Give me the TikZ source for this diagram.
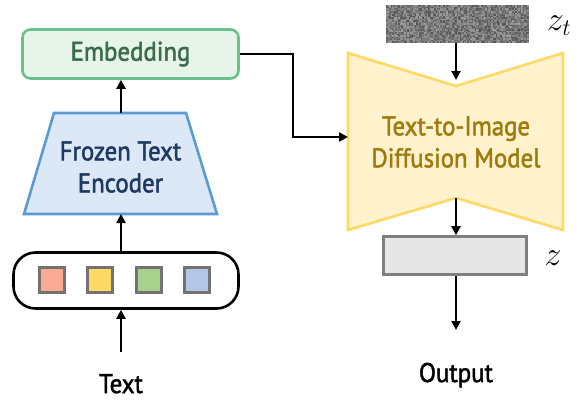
\RequirePackage{fix-cm}
\documentclass[tikz,border=0pt]{standalone}
\usepackage{fontspec}
\setmainfont{PT Sans}[FakeBold=1.8, FakeStretch=0.92]
\usetikzlibrary{arrows.meta,calc}

\definecolor{embfill}{HTML}{E7F4EA}
\definecolor{embline}{HTML}{6CC08B}
\definecolor{embtext}{HTML}{3A6B4B}
\definecolor{encfill}{HTML}{DCE8F5}
\definecolor{encline}{HTML}{5B9BD5}
\definecolor{enctext}{HTML}{1F3864}
\definecolor{dmfill}{HTML}{FFF2CC}
\definecolor{dmline}{HTML}{FFD966}
\definecolor{dmtext}{HTML}{9E7B0C}
\definecolor{sqline}{HTML}{767171}
\definecolor{sqa}{HTML}{F9AB96}
\definecolor{sqb}{HTML}{FFD966}
\definecolor{sqc}{HTML}{A9D18E}
\definecolor{sqd}{HTML}{B4C7E7}
\definecolor{zfill}{HTML}{E7E6E6}
\definecolor{zline}{HTML}{7F7F7F}

\tikzset{
  arr/.style={line width=2.4pt,-{Triangle[length=9pt,width=9pt]}},
  lbl/.style={font=\fontsize{27}{32}\selectfont, inner sep=0pt, align=center},
  square/.style={draw=sqline, line width=2.6pt, minimum size=25pt, inner sep=0pt},
  mathlbl/.style={font=\fontsize{34}{34}\selectfont, inner sep=0pt}
}

\begin{document}
\begin{tikzpicture}[x=1pt,y=-1pt]
\useasboundingbox (0,0) rectangle (577,400);

% embedding box
\node[draw=embline, fill=embfill, line width=2.6pt, rounded corners=8pt,
      minimum width=216pt, minimum height=49pt, lbl, text=embtext] (emb) at (130.5,54) {Embedding};

% frozen text encoder (trapezoid)
\draw[draw=encline, fill=encfill, line width=2.6pt, line join=miter]
  (24,214) -- (54,113) -- (186,113) -- (217,214) -- cycle;
\node[lbl, text=enctext] (enc) at (120.5,167) {Frozen Text\\Encoder};
\coordinate (enctop) at (121,113);
\coordinate (encbot) at (121,214);

% token sequence
\node[draw=black, line width=2.6pt, rounded corners=22pt,
      minimum width=225pt, minimum height=56pt] (tok) at (126,280.5) {};
\node[square, fill=sqa] (sq1) at (52,280) {};
\node[square, fill=sqb] (sq2) at (100,280) {};
\node[square, fill=sqc] (sq3) at (149,280) {};
\node[square, fill=sqd] (sq4) at (197,280) {};

\node[lbl, text=black, anchor=base] (txt) at (121,393) {Text};
\coordinate (txtin) at (121,352);

% noise latent
\node[minimum width=142pt, minimum height=38pt, inner sep=0pt] (noise) at (457,24) {};
\pgfmathsetseed{11}
\foreach \i in {0,...,94}{
  \foreach \j in {0,...,24}{
    \pgfmathtruncatemacro\g{38+30*rnd}
    \fill[black!\g] (386+1.5*\i,5+1.5*\j) rectangle ++(1.5,1.5);
  }
}
\node[mathlbl] (zt) at (559,26) {$z_t$};

% diffusion model (hourglass)
\draw[draw=dmline, fill=dmfill, line width=2.6pt, line join=miter]
  (348,53) -- (456,86) -- (563,53) -- (563,230) -- (456,198) -- (348,230) -- cycle;
\node[lbl, text=dmtext] (dm) at (456,142) {Text-to-Image\\Diffusion Model};
\coordinate (dmtop) at (456,80);
\coordinate (dmbot) at (456,198);
\coordinate (dmleft) at (348,137);
\coordinate (bend) at (293,137);

% output latent
\node[draw=zline, fill=zfill, line width=2.6pt,
      minimum width=143pt, minimum height=38pt] (zbox) at (455,255.5) {};
\node[mathlbl] (zl) at (553,258) {$z$};
\coordinate (outtip) at (456,330);
\node[lbl, text=black, anchor=base] (out) at (456,382) {Output};

% connectors
\draw[arr] (txtin) -- (tok.south -| txtin);
\draw[arr] (tok.north -| encbot) -- (encbot);
\draw[arr] (enctop) -- (emb.south -| enctop);
\draw[arr] (emb.east) -| (bend) -- (dmleft);
\draw[arr] (noise.south -| dmtop) -- (dmtop);
\draw[arr] (dmbot) -- (zbox.north -| dmbot);
\draw[arr] (zbox.south -| outtip) -- (outtip);
\end{tikzpicture}
\end{document}
